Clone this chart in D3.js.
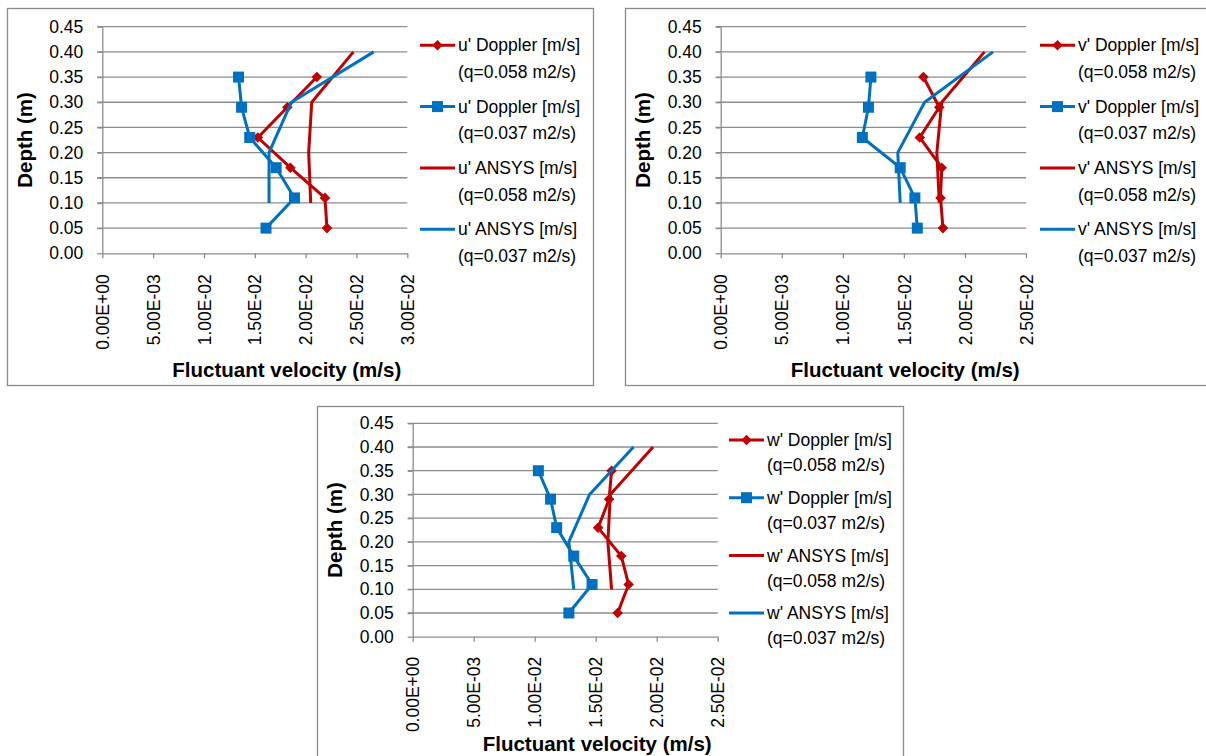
<!DOCTYPE html>
<html>
<head>
<meta charset="utf-8">
<script src="https://cdn.jsdelivr.net/npm/d3@7"></script>
<style>
  body { margin: 0; background: #fff; }
  svg text { font-family: "Liberation Sans", Arial, sans-serif; fill: #000; }
</style>
</head>
<body>
<div id="chart"></div>
<script>
// depths where each series was measured / simulated
const depthDoppler = [0.35, 0.29, 0.23, 0.17, 0.11, 0.05]
const depthAnsys = [0.40, 0.30, 0.20, 0.10]

// u' (m/s)
const uDoppler058 = [0.0211, 0.0182, 0.0153, 0.0185, 0.0219, 0.0221]
const uDoppler037 = [0.0134, 0.0137, 0.0145, 0.0171, 0.0189, 0.0161]
const uAnsys058 = [0.0247, 0.0206, 0.0203, 0.0205]
const uAnsys037 = [0.0267, 0.0186, 0.0164, 0.0164]

// v' (m/s)
const vDoppler058 = [0.0166, 0.0179, 0.0163, 0.0181, 0.0180, 0.0182]
const vDoppler037 = [0.0123, 0.0121, 0.0116, 0.0147, 0.0159, 0.0161]
const vAnsys058 = [0.0216, 0.0181, 0.0177, 0.0179]
const vAnsys037 = [0.0223, 0.0167, 0.0145, 0.0147]

// w' (m/s)
const wDoppler058 = [0.0163, 0.0161, 0.0152, 0.0171, 0.0177, 0.0168]
const wDoppler037 = [0.0103, 0.0113, 0.0118, 0.0132, 0.0147, 0.0128]
const wAnsys058 = [0.0197, 0.0162, 0.0160, 0.0163]
const wAnsys037 = [0.0181, 0.0145, 0.0128, 0.0132]

// ticks
const depthTicks = [0, 0.05, 0.10, 0.15, 0.20, 0.25, 0.30, 0.35, 0.40, 0.45]
const velTicksU = [0, 0.005, 0.010, 0.015, 0.020, 0.025, 0.030]
const velTicksVW = [0, 0.005, 0.010, 0.015, 0.020, 0.025]

// legend text
const legendMethods = ["Doppler", "Doppler", "ANSYS", "ANSYS"]
const legendFlows = ["(q=0.058 m2/s)", "(q=0.037 m2/s)", "(q=0.058 m2/s)", "(q=0.037 m2/s)"]

const red = '#C00000'
const blue = '#0070C0'
const grey = '#8c8c8c'

const svg = d3.select('#chart')
              .append('svg')
              .attr('width', 1206)
              .attr('height', 756)

//Excel style scientific labels, e.g. 1.50E-02
function sci(v) {
  return v.toExponential(2).toUpperCase().replace(/E([+-])(\d)$/, 'E$10$2')
}

function drawChart(c) {
  let g = svg.append('g')

  //frame
  g.append('rect')
   .attr('x', c.frame[0] + 0.5)
   .attr('y', c.frame[1] + 0.5)
   .attr('width', c.frame[2])
   .attr('height', c.frame[3])
   .attr('fill', '#fff')
   .attr('stroke', '#8a8a8a')
   .attr('stroke-width', 1.3)

  let x = d3.scaleLinear()
            .domain([0, c.xMax])
            .range([c.left, c.right])
  let y = d3.scaleLinear()
            .domain([0, 0.45])
            .range([c.bottom, c.top])

  //gridlines
  g.selectAll('.grid')
   .data(depthTicks.filter(d => d > 0))
   .enter()
   .append('line')
   .attr('x1', c.left - 5)
   .attr('x2', c.right)
   .attr('y1', d => y(d))
   .attr('y2', d => y(d))
   .attr('stroke', grey)
   .attr('stroke-width', 1.3)

  let yAxis = g.append('g')
               .attr('transform', 'translate(' + c.left + ',0)')
               .call(d3.axisLeft(y)
                       .tickValues(depthTicks)
                       .tickFormat(d3.format('.2f'))
                       .tickSizeInner(5)
                       .tickSizeOuter(0)
                       .tickPadding(14))
  yAxis.selectAll('text')
       .attr('font-size', 17.5)
       .attr('font-family', '"Liberation Sans", Arial, sans-serif')

  let xAxis = g.append('g')
               .attr('transform', 'translate(0,' + c.bottom + ')')
               .call(d3.axisBottom(x)
                       .tickValues(c.xTicks)
                       .tickFormat(sci)
                       .tickSizeInner(5)
                       .tickSizeOuter(0))
  xAxis.selectAll('text')
       .attr('font-size', 17.5)
       .attr('font-family', '"Liberation Sans", Arial, sans-serif')
       .attr('transform', 'rotate(-90)')
       .attr('x', -c.labelGap)
       .attr('y', 0)
       .attr('dy', '0.35em')
       .style('text-anchor', 'end')

  g.selectAll('.domain, .tick line')
   .attr('stroke', grey)
   .attr('stroke-width', 1.3)

  //axis titles
  g.append('text')
   .attr('transform', 'translate(' + (c.left - 77.5) + ',' + ((c.top + c.bottom) / 2) + ') rotate(-90)')
   .attr('text-anchor', 'middle')
   .attr('dy', '0.35em')
   .attr('font-size', 20.5)
   .attr('font-weight', 'bold')
   .text('Depth (m)')

  g.append('text')
   .attr('x', c.left + 184.5)
   .attr('y', c.titleY)
   .attr('text-anchor', 'middle')
   .attr('font-size', 20.5)
   .attr('font-weight', 'bold')
   .text('Fluctuant velocity (m/s)')

  let series = [
    {vals: c.data[0], depth: depthDoppler, color: red, marker: 'diamond'},
    {vals: c.data[1], depth: depthDoppler, color: blue, marker: 'square'},
    {vals: c.data[2], depth: depthAnsys, color: red, marker: null},
    {vals: c.data[3], depth: depthAnsys, color: blue, marker: null}
  ]

  let line = d3.line()
               .x(d => x(d[0]))
               .y(d => y(d[1]))

  series.forEach(function(s) {
    let pts = s.vals.map((v, i) => [v, s.depth[i]])
    g.append('path')
     .datum(pts)
     .attr('d', line)
     .attr('fill', 'none')
     .attr('stroke', s.color)
     .attr('stroke-width', 3)
     .attr('stroke-linejoin', 'round')
    if (s.marker) {
      g.selectAll(null)
       .data(pts)
       .enter()
       .append('path')
       .attr('d', marker(s.marker))
       .attr('transform', d => 'translate(' + x(d[0]) + ',' + y(d[1]) + ')' + (s.marker === 'diamond' ? ' rotate(45)' : ''))
       .attr('fill', s.color)
    }
  })

  //legend
  series.forEach(function(s, i) {
    let ly = c.legendY + i * c.legendStep
    g.append('line')
     .attr('x1', c.legendX)
     .attr('x2', c.legendX + 35)
     .attr('y1', ly)
     .attr('y2', ly)
     .attr('stroke', s.color)
     .attr('stroke-width', 3)
    if (s.marker) {
      g.append('path')
       .attr('d', marker(s.marker))
       .attr('transform', 'translate(' + (c.legendX + 17.5) + ',' + ly + ')' + (s.marker === 'diamond' ? ' rotate(45)' : ''))
       .attr('fill', s.color)
    }
    g.append('text')
     .attr('x', c.legendX + 38)
     .attr('y', ly)
     .attr('dy', '0.35em')
     .attr('font-size', 17.5)
     .text(c.comp + "' " + legendMethods[i] + ' [m/s]')
    g.append('text')
     .attr('x', c.legendX + 38)
     .attr('y', ly + c.lineStep)
     .attr('dy', '0.35em')
     .attr('font-size', 17.5)
     .text(legendFlows[i])
  })
}

function marker(type) {
  if (type === 'square') return d3.symbol().type(d3.symbolSquare).size(121)()
  return d3.symbol().type(d3.symbolSquare).size(56)()
}

drawChart({
  comp: 'u', data: [uDoppler058, uDoppler037, uAnsys058, uAnsys037],
  frame: [7, 8, 586, 377], left: 102.3, right: 407.3, top: 26.7, bottom: 253.3,
  xMax: 0.03, xTicks: velTicksU, labelGap: 21, titleY: 376.7,
  legendX: 420, legendY: 45.3, legendStep: 61.3, lineStep: 26.7
})

drawChart({
  comp: 'v', data: [vDoppler058, vDoppler037, vAnsys058, vAnsys037],
  frame: [625, 8, 586, 377], left: 720.7, right: 1026, top: 26.7, bottom: 253.3,
  xMax: 0.025, xTicks: velTicksVW, labelGap: 21, titleY: 376.7,
  legendX: 1040, legendY: 45.3, legendStep: 61.3, lineStep: 26.7
})

drawChart({
  comp: 'w', data: [wDoppler058, wDoppler037, wAnsys058, wAnsys037],
  frame: [317, 406, 586, 370], left: 412.7, right: 717.7, top: 423.3, bottom: 636.7,
  xMax: 0.025, xTicks: velTicksVW, labelGap: 20, titleY: 751,
  legendX: 729, legendY: 440, legendStep: 57.7, lineStep: 25
})
</script>
</body>
</html>
